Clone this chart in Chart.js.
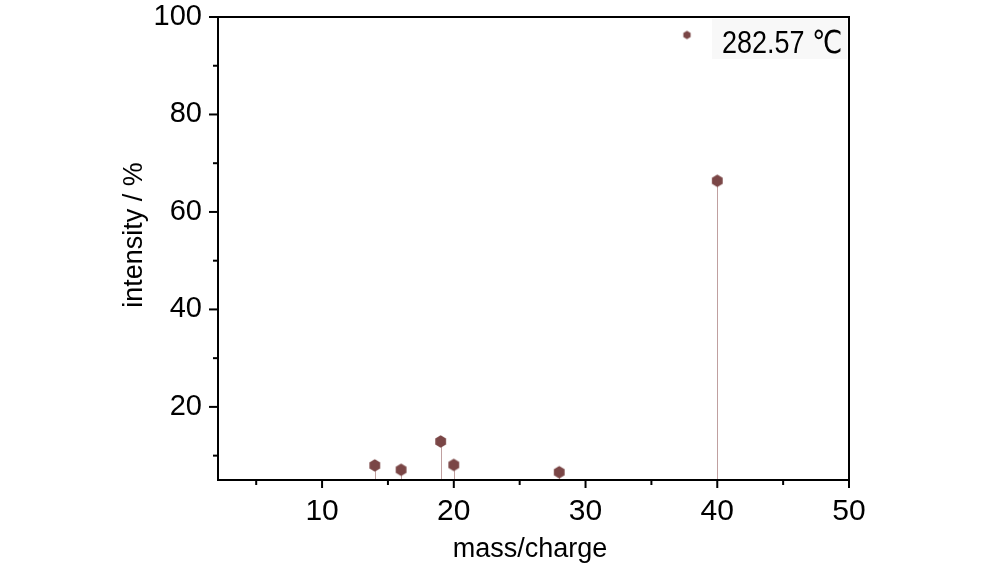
<!DOCTYPE html>
<html>
<head>
<meta charset="utf-8">
<script src="https://cdn.jsdelivr.net/npm/chart.js@4/dist/chart.umd.min.js"></script>
<style>
html,body{margin:0;padding:0;background:#fff;}
#wrap{width:994px;height:568px;}
</style>
</head>
<body>
<div id="wrap"><canvas id="c" width="994" height="568"></canvas></div>
<script>
// ---- data ----
const massCharge = [14, 16, 19, 20, 28, 40];
const intensity  = [8.0, 7.1, 12.9, 8.1, 6.6, 66.4];
const seriesLabel = '282.57 \u2103';
const xMajorTicks = [10, 20, 30, 40, 50];
const xMinorTicks = [5, 15, 25, 35, 45];
const yMajorTicks = [20, 40, 60, 80, 100];
const yMinorTicks = [10, 30, 50, 70, 90];
const xTitle = 'mass/charge';
const yTitle = 'intensity / %';
const xRange = [2.1, 50];
const yRange = [5, 100];

// ---- styles ----
const markerColor = '#7a4646';
const stemColor = '#c0a0a0';
const FONT = '"Liberation Sans", Arial, "DejaVu Sans", sans-serif';

function hexagon(r, color) {
  const s = Math.ceil(r * 2 + 2);
  const cv = document.createElement('canvas');
  cv.width = s; cv.height = s;
  const g = cv.getContext('2d');
  g.fillStyle = color;
  g.beginPath();
  for (let i = 0; i < 6; i++) {
    const a = -Math.PI / 2 + i * Math.PI / 3;
    const px = s / 2 + r * Math.cos(a), py = s / 2 + r * Math.sin(a);
    if (i === 0) g.moveTo(px, py); else g.lineTo(px, py);
  }
  g.closePath();
  g.fill();
  return cv;
}
const hexMarker = hexagon(6.2, markerColor);
const hexLegend = hexagon(4.2, markerColor);

const points = massCharge.map((x, i) => ({ x: x, y: intensity[i] }));
const allX = [...xMinorTicks, ...xMajorTicks].sort((a, b) => a - b);
const allY = [...yMinorTicks, ...yMajorTicks].sort((a, b) => a - b);

const decor = {
  id: 'decor',
  beforeDatasetsDraw(chart) {
    const ctx = chart.ctx, xs = chart.scales.x, ys = chart.scales.y;
    ctx.save();
    ctx.strokeStyle = stemColor;
    ctx.lineWidth = 1;
    const base = ys.getPixelForValue(yRange[0]);
    chart.data.datasets[0].data.forEach(p => {
      const px = Math.round(xs.getPixelForValue(p.x)) + 0.5;
      ctx.beginPath();
      ctx.moveTo(px, ys.getPixelForValue(p.y));
      ctx.lineTo(px, base);
      ctx.stroke();
    });
    ctx.restore();
  },
  afterDraw(chart) {
    const ctx = chart.ctx, xs = chart.scales.x, ys = chart.scales.y;
    const a = chart.chartArea;
    ctx.save();
    // legend background
    ctx.fillStyle = '#f8f8f8';
    ctx.fillRect(712, 19, 135, 40);
    // frame
    ctx.strokeStyle = '#000';
    ctx.lineWidth = 2;
    ctx.strokeRect(a.left, a.top, a.right - a.left, a.bottom - a.top);
    // ticks
    allX.forEach(v => {
      const px = xs.getPixelForValue(v);
      const len = xMajorTicks.includes(v) ? 8 : 5;
      ctx.beginPath(); ctx.moveTo(px, a.bottom); ctx.lineTo(px, a.bottom + len); ctx.stroke();
    });
    allY.forEach(v => {
      const py = ys.getPixelForValue(v);
      const len = yMajorTicks.includes(v) ? 9 : 5;
      ctx.beginPath(); ctx.moveTo(a.left, py); ctx.lineTo(a.left - len, py); ctx.stroke();
    });
    // axis titles
    ctx.fillStyle = '#000';
    ctx.font = '27px ' + FONT;
    ctx.textAlign = 'center';
    ctx.textBaseline = 'alphabetic';
    ctx.fillText(xTitle, 530, 557);
    ctx.save();
    ctx.translate(142, 235);
    ctx.rotate(-Math.PI / 2);
    ctx.fillText(yTitle, 0, 0);
    ctx.restore();
    // legend
    ctx.drawImage(hexLegend, 687 - hexLegend.width / 2, 35 - hexLegend.height / 2);
    ctx.fillStyle = '#000';
    ctx.font = '27px ' + FONT;
    ctx.textAlign = 'left';
    const label = chart.data.datasets[0].label;
    const w = ctx.measureText(label).width;
    const sx = Math.min(1, 123 / w);
    ctx.save();
    ctx.translate(722, 53);
    ctx.scale(sx, 1.17);
    ctx.fillText(label, 0, 0);
    ctx.restore();
    ctx.restore();
  }
};

new Chart(document.getElementById('c'), {
  type: 'scatter',
  data: {
    datasets: [{
      label: seriesLabel,
      data: points,
      pointStyle: hexMarker,
      pointRadius: 6,
      pointHoverRadius: 6,
      showLine: false
    }]
  },
  options: {
    responsive: false,
    animation: false,
    devicePixelRatio: 1,
    layout: { padding: { left: 0, top: 17, right: 145, bottom: 0 } },
    plugins: { legend: { display: false }, tooltip: { enabled: false } },
    scales: {
      x: {
        type: 'linear',
        min: xRange[0], max: xRange[1],
        afterBuildTicks(s) { s.ticks = allX.map(v => ({ value: v })); },
        afterFit(s) { s.height = 88; s.paddingLeft = 0; s.paddingRight = 0; },
        grid: { display: false, drawTicks: false },
        border: { display: false },
        ticks: {
          padding: 14,
          color: '#000',
          font: { family: FONT, size: 30 },
          maxRotation: 0,
          autoSkip: false,
          callback: v => xMajorTicks.includes(v) ? String(v) : ''
        }
      },
      y: {
        type: 'linear',
        min: yRange[0], max: yRange[1],
        afterBuildTicks(s) { s.ticks = allY.map(v => ({ value: v })); },
        afterFit(s) { s.width = 218; s.paddingTop = 0; s.paddingBottom = 0; },
        grid: { display: false, drawTicks: false },
        border: { display: false },
        ticks: {
          padding: 16,
          color: '#000',
          font: { family: FONT, size: 29 },
          autoSkip: false,
          callback: v => yMajorTicks.includes(v) ? String(v) : ''
        }
      }
    }
  },
  plugins: [decor]
});
</script>
</body>
</html>
